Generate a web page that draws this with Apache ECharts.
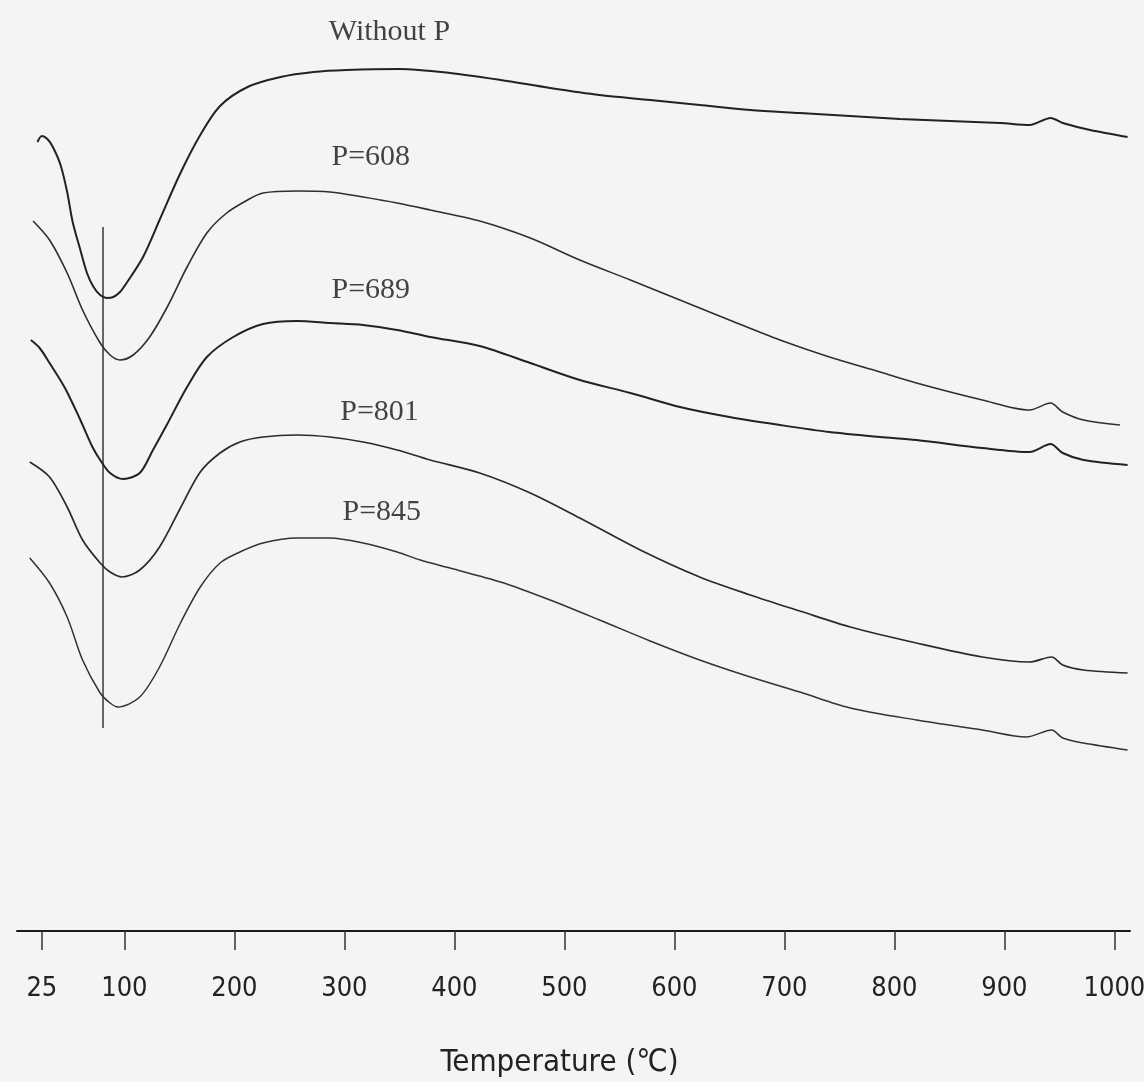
<!DOCTYPE html>
<html>
<head>
<meta charset="utf-8">
<script src="https://cdn.jsdelivr.net/npm/echarts@6/dist/echarts.min.js"></script>
<style>
  html, body { margin: 0; padding: 0; background: #f4f3f6; }
  #chart { width: 1144px; height: 1082px; }
</style>
</head>
<body>
<div id="chart"></div>
<script>
// Temperature tick labels on the bottom axis (°C)
const tickTemps = [25, 100, 200, 300, 400, 500, 600, 700, 800, 900, 1000];

// Curve names, top to bottom
const curveNames = ['Without P', 'P=608', 'P=689', 'P=801', 'P=845'];

// DTA traces: [temperature °C, signal (arb. units, stacked offsets)]
const withoutP = [
  [21, 792], [25, 798], [30, 795], [35, 787], [42, 769], [48, 742], [53, 712], [60, 684],
  [66, 661], [72, 647], [78, 639], [84, 636], [90, 637], [96, 642], [102, 651], [117, 677],
  [132, 714], [151, 761], [169, 799], [187, 828], [212, 847], [242, 857], [272, 862],
  [302, 864], [350, 865], [396, 861], [442, 854], [487, 846], [532, 839], [578, 834],
  [623, 829], [669, 824], [714, 821], [805, 815], [896, 811], [923, 809], [942, 816],
  [953, 811], [978, 804], [1012, 797]
];
const p608 = [
  [17, 713], [32, 694], [48, 661], [62, 624], [78, 591], [87, 579], [96, 574], [108, 579],
  [123, 597], [139, 627], [157, 667], [175, 701], [193, 721], [212, 734], [226, 741],
  [257, 743], [287, 742], [317, 737], [348, 731], [378, 724], [423, 713], [469, 696],
  [514, 674], [560, 654], [605, 634], [650, 614], [696, 594], [741, 577], [787, 562],
  [820, 551], [880, 534], [923, 524], [942, 531], [953, 522], [972, 514], [1005, 509]
];
const p689 = [
  [15, 594], [23, 586], [32, 571], [46, 546], [60, 514], [71, 487], [78, 474], [87, 461],
  [99, 455], [114, 461], [126, 484], [139, 510], [157, 547], [175, 577], [199, 597],
  [226, 610], [257, 613], [287, 611], [317, 609], [348, 604], [378, 597], [423, 588],
  [469, 571], [514, 554], [560, 541], [605, 527], [650, 517], [696, 509], [741, 502],
  [787, 497], [820, 494], [880, 486], [923, 482], [942, 490], [953, 481], [972, 474],
  [1012, 469]
];
const p801 = [
  [14, 472], [32, 457], [48, 427], [62, 394], [78, 371], [87, 362], [98, 357], [114, 364],
  [132, 387], [151, 426], [169, 462], [187, 481], [205, 492], [226, 497], [257, 499],
  [287, 497], [317, 492], [348, 484], [378, 474], [423, 461], [469, 441], [514, 416],
  [569, 384], [623, 357], [669, 339], [714, 323], [760, 307], [820, 291], [880, 277],
  [923, 272], [943, 277], [953, 269], [972, 264], [1012, 261]
];
const p845 = [
  [14, 376], [32, 351], [48, 317], [62, 274], [78, 241], [87, 231], [94, 227], [114, 237],
  [132, 267], [151, 311], [169, 347], [187, 371], [205, 382], [226, 391], [257, 396],
  [287, 396], [317, 391], [348, 382], [369, 374], [396, 366], [442, 352], [487, 334],
  [532, 314], [578, 293], [623, 274], [669, 257], [714, 242], [760, 226], [820, 214],
  [880, 204], [920, 197], [943, 204], [953, 196], [972, 191], [1012, 184]
];
const curves = [withoutP, p608, p689, p801, p845];

// Label anchor for each curve name: [temperature, signal]
const labelAnchors = [[341, 902], [324, 777], [324, 644], [332, 522], [334, 422]];

// Vertical reference line through the endothermic minima
const refLine = [[80.6, 206], [80.6, 707]];

const lineWidths = [2, 1.6, 2, 1.7, 1.5];
const lineColors = ['#222', '#2e2e2e', '#222', '#2a2a2a', '#333'];

const chart = echarts.init(document.getElementById('chart'), null, { renderer: 'canvas' });

const series = curves.map((d, i) => ({
  name: curveNames[i],
  type: 'line',
  data: d,
  smooth: 0.3,
  showSymbol: false,
  symbol: 'none',
  lineStyle: { color: lineColors[i], width: lineWidths[i] },
  z: 3
}));

series.push({
  name: 'ref',
  type: 'line',
  data: refLine,
  showSymbol: false,
  symbol: 'none',
  lineStyle: { color: '#444', width: 1.6 },
  z: 2
});

series.push({
  name: 'names',
  type: 'scatter',
  data: labelAnchors.map((a, i) => ({ value: a, name: curveNames[i] })),
  symbolSize: 0,
  silent: true,
  label: {
    show: true,
    position: 'inside',
    formatter: p => p.name,
    fontFamily: "'Liberation Serif', 'Times New Roman', serif",
    fontSize: 30,
    color: '#151515',
    textBorderWidth: 0
  },
  z: 4
});

chart.setOption({
  backgroundColor: '#f4f3f6',
  animation: false,
  grid: { left: 17, right: 14, top: 0, bottom: 151, containLabel: false, outerBoundsMode: 'none' },
  xAxis: {
    type: 'value',
    min: 2.4,
    max: 1014.2,
    name: 'Temperature (℃)',
    nameLocation: 'middle',
    nameGap: 116,
    nameTextStyle: {
      fontFamily: "'DejaVu Sans Condensed', 'Noto Sans CJK JP', sans-serif",
      fontSize: 31,
      color: '#222',
      padding: [0, 28, 0, 0]
    },
    axisLine: { show: true, onZero: false, lineStyle: { color: '#1a1a1a', width: 2 } },
    axisTick: {
      show: true,
      customValues: tickTemps,
      length: 19,
      lineStyle: { color: '#333', width: 1.5 }
    },
    axisLabel: {
      show: true,
      customValues: tickTemps,
      formatter: v => String(v),
      margin: 44,
      fontFamily: "'DejaVu Sans Condensed', sans-serif",
      fontSize: 27,
      color: '#222'
    },
    splitLine: { show: false }
  },
  yAxis: {
    type: 'value',
    min: 3,
    max: 934,
    show: false
  },
  series: series
});
</script>
</body>
</html>
